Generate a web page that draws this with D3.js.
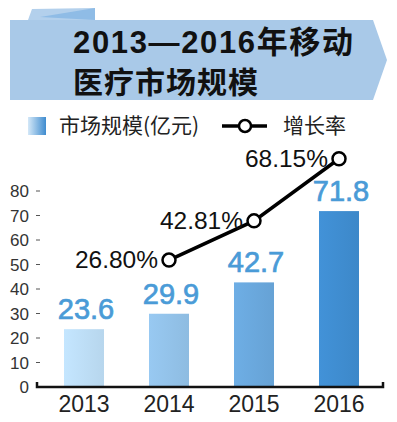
<!DOCTYPE html>
<html>
<head>
<meta charset="utf-8">
<script src="https://cdn.jsdelivr.net/npm/d3@7"></script>
<style>
    body { margin: 0; background: #fff; }
    svg { display: block; }
</style>
</head>
<body>
<svg id="canvas"></svg>
<script>
// data
let years = ["2013", "2014", "2015", "2016"]
let market = [23.6, 29.9, 42.7, 71.8]          // 市场规模(亿元)
let rateYears = ["2014", "2015", "2016"]
let rates = [26.80, 42.81, 68.15]               // 增长率 %
let yTicks = [0, 10, 20, 30, 40, 50, 60, 70, 80]
let titleLines = ["2013—2016年移动", "医疗市场规模"]

let width = 397, height = 422
let latin = "'Liberation Sans', Arial, 'Noto Sans CJK SC', sans-serif"
let cjk = "'Noto Sans CJK SC', 'Liberation Sans', sans-serif"

let svg = d3.select("#canvas")
    .attr("width", width)
    .attr("height", height)

let defs = svg.append("defs")
let barColor = d3.scaleLinear().domain([0, 3]).range(["#bcdcf4", "#3f8ccf"])

// one horizontal gradient per bar, lighter to darker
years.forEach((y, i) => {
    let g = defs.append("linearGradient").attr("id", "bar" + i)
        .attr("x1", "0%").attr("x2", "100%")
    g.append("stop").attr("offset", "0%").attr("stop-color", d3.color(barColor(i)).brighter(0.12))
    g.append("stop").attr("offset", "100%").attr("stop-color", d3.color(barColor(i)).darker(0.08))
})
let lg = defs.append("linearGradient").attr("id", "legendGrad")
    .attr("x1", "0%").attr("x2", "100%")
lg.append("stop").attr("offset", "0%").attr("stop-color", "#d4e8f8")
lg.append("stop").attr("offset", "100%").attr("stop-color", "#3f8ccf")

// ---- title banner ----
let banner = svg.append("g")
banner.append("path")
    .attr("d", "M32,9 L95,8 L95,20 L28,20 Z")
    .attr("fill", "#b3d0ec")
banner.append("path")
    .attr("d", "M40,17 L95,8 L95,20 Z")
    .attr("fill", "#8fbce6")
banner.append("path")
    .attr("d", "M10,20 L373,20 L387,60 L373,100 L10,100 Z")
    .attr("fill", "#a9c9e8")

banner.append("text")
    .attr("x", 73).attr("y", 53)
    .attr("textLength", 280).attr("lengthAdjust", "spacing")
    .style("font-family", latin)
    .style("font-weight", "bold")
    .style("font-size", "31px")
    .attr("fill", "#111")
    .text(titleLines[0])
banner.append("text")
    .attr("x", 73).attr("y", 93)
    .attr("textLength", 185).attr("lengthAdjust", "spacing")
    .style("font-family", cjk)
    .style("font-weight", "bold")
    .style("font-size", "30px")
    .attr("fill", "#111")
    .text(titleLines[1])

// ---- legend ----
let legend = svg.append("g")
legend.append("rect")
    .attr("x", 28).attr("y", 117).attr("width", 18).attr("height", 18)
    .attr("fill", "url(#legendGrad)")
legend.append("text")
    .attr("x", 59).attr("y", 133)
    .style("font-family", cjk)
    .style("font-size", "21px")
    .attr("fill", "#222")
    .text("市场规模(亿元)")
legend.append("line")
    .attr("x1", 222).attr("x2", 267).attr("y1", 126).attr("y2", 126)
    .attr("stroke", "#000").attr("stroke-width", 3.5)
legend.append("circle")
    .attr("cx", 245).attr("cy", 126).attr("r", 6)
    .attr("fill", "#fff").attr("stroke", "#000").attr("stroke-width", 2.5)
legend.append("text")
    .attr("x", 283).attr("y", 133)
    .style("font-family", cjk)
    .style("font-size", "21px")
    .attr("fill", "#222")
    .text("增长率")

// ---- scales ----
let x = d3.scalePoint().domain(years).range([84, 339])
let y = d3.scaleLinear().domain([0, 80]).range([387, 191])
let yRate = d3.scaleLinear().domain([-25, 55]).range([387, 191])
let barW = 40

// y axis ticks + labels
let yAxis = svg.append("g")
yAxis.selectAll("text").data(yTicks).enter().append("text")
    .attr("x", 29)
    .attr("y", d => y(d) + 6)
    .attr("text-anchor", "end")
    .style("font-family", latin)
    .style("font-size", "17px")
    .attr("fill", "#333")
    .text(d => d)
yAxis.selectAll("line").data(yTicks.filter(d => d > 0)).enter().append("line")
    .attr("x1", 36).attr("x2", 40)
    .attr("y1", d => y(d)).attr("y2", d => y(d))
    .attr("stroke", "#555").attr("stroke-width", 1)

// bars
svg.append("g").selectAll("rect").data(market).enter().append("rect")
    .attr("x", (d, i) => x(years[i]) - barW / 2)
    .attr("y", d => y(d))
    .attr("width", barW)
    .attr("height", d => y(0) - y(d))
    .attr("fill", (d, i) => "url(#bar" + i + ")")

// baseline with small end hooks
svg.append("path")
    .attr("d", "M37," + (y(0) - 5) + " L37," + y(0) + " L383," + y(0) + " L383," + (y(0) - 5))
    .attr("fill", "none")
    .attr("stroke", "#111").attr("stroke-width", 2.5)

// value labels
svg.append("g").selectAll("text").data(market).enter().append("text")
    .attr("x", (d, i) => x(years[i]) + 2)
    .attr("y", d => y(d) - 10)
    .attr("text-anchor", "middle")
    .style("font-family", latin)
    .style("font-size", "29px")
    .attr("fill", "#4a9bd7")
    .attr("stroke", "#4a9bd7").attr("stroke-width", 0.7)
    .text(d => d.toFixed(1))

// year labels
svg.append("g").selectAll("text").data(years).enter().append("text")
    .attr("x", d => x(d))
    .attr("y", 412)
    .attr("text-anchor", "middle")
    .style("font-family", latin)
    .style("font-size", "23px")
    .attr("fill", "#222")
    .text(d => d)

// growth rate line
let rateData = rates.map((r, i) => ({ year: rateYears[i], rate: r }))
let line = d3.line().x(d => x(d.year)).y(d => yRate(d.rate))
svg.append("path")
    .datum(rateData)
    .attr("d", line)
    .attr("fill", "none")
    .attr("stroke", "#000").attr("stroke-width", 3.5)

svg.append("g").selectAll("circle").data(rateData).enter().append("circle")
    .attr("cx", d => x(d.year))
    .attr("cy", d => yRate(d.rate))
    .attr("r", 6.5)
    .attr("fill", "#fff").attr("stroke", "#000").attr("stroke-width", 2.5)

svg.append("g").selectAll("text").data(rateData).enter().append("text")
    .attr("x", d => x(d.year) - 11)
    .attr("y", d => yRate(d.rate) + 8)
    .attr("text-anchor", "end")
    .style("font-family", latin)
    .style("font-size", "24.5px")
    .attr("fill", "#111")
    .text(d => d.rate.toFixed(2) + "%")
</script>
</body>
</html>
